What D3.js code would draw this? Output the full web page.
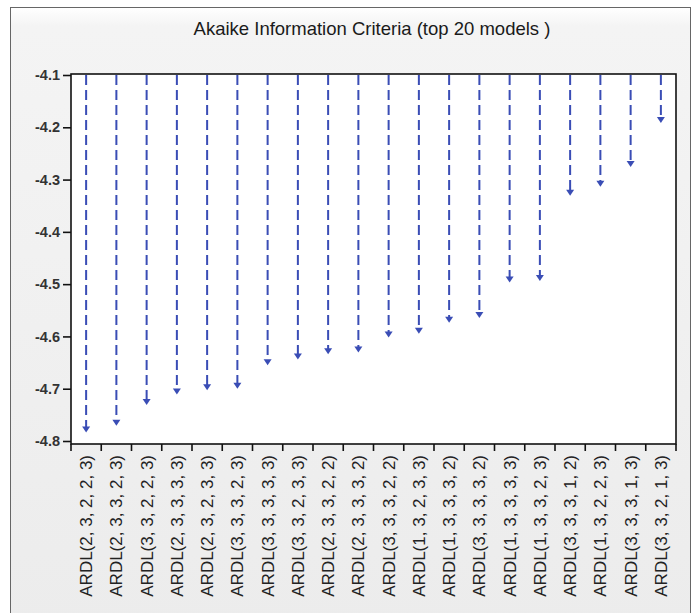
<!DOCTYPE html>
<html><head><meta charset="utf-8">
<script src="https://cdn.jsdelivr.net/npm/d3@7"></script>
<style>body{margin:0;background:#fff}svg{display:block}</style>
</head><body>
<svg id="c" width="697" height="613"></svg>
<script>
const categories = [
  "ARDL(2, 3, 2, 2, 3)", "ARDL(2, 3, 3, 2, 3)", "ARDL(3, 3, 2, 2, 3)", "ARDL(2, 3, 3, 3, 3)",
  "ARDL(2, 3, 2, 3, 3)", "ARDL(3, 3, 3, 2, 3)", "ARDL(3, 3, 3, 3, 3)", "ARDL(3, 3, 2, 3, 3)",
  "ARDL(2, 3, 3, 2, 2)", "ARDL(2, 3, 3, 3, 2)", "ARDL(3, 3, 3, 2, 2)", "ARDL(1, 3, 2, 3, 3)",
  "ARDL(1, 3, 3, 3, 2)", "ARDL(3, 3, 3, 3, 2)", "ARDL(1, 3, 3, 3, 3)", "ARDL(1, 3, 3, 2, 3)",
  "ARDL(3, 3, 3, 1, 2)", "ARDL(1, 3, 2, 2, 3)", "ARDL(3, 3, 3, 1, 3)", "ARDL(3, 3, 2, 1, 3)"
];
const aicValues = [
  -4.782, -4.769, -4.729, -4.709, -4.701, -4.698, -4.653, -4.642, -4.632, -4.629,
  -4.600, -4.593, -4.572, -4.563, -4.495, -4.492, -4.329, -4.312, -4.274, -4.190
];
const yTicks = [-4.1, -4.2, -4.3, -4.4, -4.5, -4.6, -4.7, -4.8];
const titleText = "Akaike Information Criteria (top 20 models )";

const svg = d3.select("#c");
const defs = svg.append("defs");
const g = defs.append("linearGradient").attr("id","bg").attr("x1",0).attr("y1",0).attr("x2",0).attr("y2",1);
g.append("stop").attr("offset","0").attr("stop-color","#ffffff");
g.append("stop").attr("offset","0.03").attr("stop-color","#f4f4f4");
g.append("stop").attr("offset","1").attr("stop-color","#ececec");

svg.append("rect").attr("x",10.5).attr("y",7.5).attr("width",680).attr("height",620)
  .attr("fill","url(#bg)").attr("stroke","#666").attr("stroke-width",1);

const L = 71, R = 676, T = 75, B = 441, AX = 444;
const x = d3.scaleBand().domain(categories).range([L, R]);
const y = d3.scaleLinear().domain([-4.8, -4.1]).range([B, T]);

svg.append("rect").attr("x",L).attr("y",T-1).attr("width",R-L).attr("height",AX-T+1)
  .attr("fill","#fff").attr("stroke","#111").attr("stroke-width",1.6);

svg.append("text").attr("x",372).attr("y",35).attr("text-anchor","middle")
  .attr("font-family","Liberation Sans, Arial, sans-serif").attr("font-size",18.5)
  .attr("fill","#1a1a1a").text(titleText);

// y axis
const yAxis = d3.axisLeft(y).tickValues(yTicks).tickFormat(d3.format(".1f")).tickSize(8).tickPadding(3);
const ya = svg.append("g").attr("transform",`translate(${L},0)`).call(yAxis);
ya.select(".domain").remove();
ya.selectAll("line").attr("stroke","#111").attr("stroke-width",1.6);
ya.selectAll("text").attr("font-family","Liberation Sans, Arial, sans-serif").attr("font-size",14.5)
  .attr("font-weight","bold").attr("fill","#333").text(d => d3.format(".1f")(d).replace("−","-"));

// x axis ticks at band boundaries
const xa = svg.append("g");
const bounds = categories.map(c => x(c)).concat([R]);
xa.selectAll("line").data(bounds).join("line")
  .attr("x1",d=>d).attr("x2",d=>d).attr("y1",AX).attr("y2",AX+7)
  .attr("stroke","#111").attr("stroke-width",1.6);
xa.selectAll("text").data(categories).join("text")
  .attr("transform",c => `translate(${x(c)+x.bandwidth()/2+6},455) rotate(-90)`)
  .attr("text-anchor","end")
  .attr("font-family","Liberation Sans, Arial, sans-serif").attr("font-size",17)
  .attr("fill","#222").text(c => c);

// drop lines
const data = categories.map((c,i) => ({c, v: aicValues[i]}));
const blue = "#3a4db5";
svg.append("g").selectAll("line").data(data).join("line")
  .attr("x1",d=>x(d.c)+x.bandwidth()/2).attr("x2",d=>x(d.c)+x.bandwidth()/2)
  .attr("y1",y(-4.1)).attr("y2",d=>y(d.v)-4)
  .attr("stroke",blue).attr("stroke-width",2).attr("stroke-dasharray","10,5");
svg.append("g").selectAll("path").data(data).join("path")
  .attr("d",d=>{const cx=x(d.c)+x.bandwidth()/2, cy=y(d.v)+1; return `M${cx-4},${cy-6}L${cx+4},${cy-6}L${cx},${cy}Z`;})
  .attr("fill",blue);
</script>
</body></html>
